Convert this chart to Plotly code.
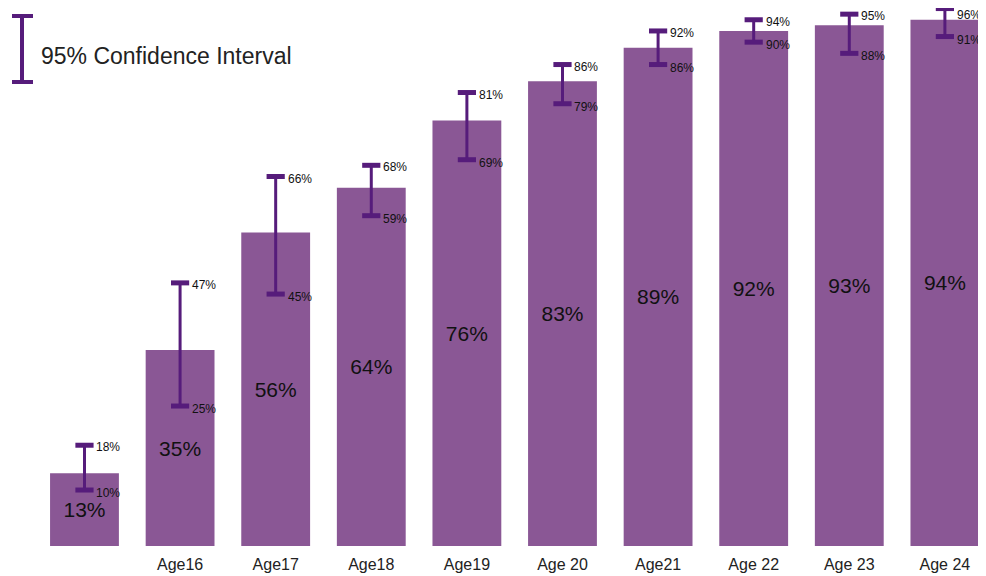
import plotly.graph_objects as go

labels = ["", "Age16", "Age17", "Age18", "Age19", "Age 20", "Age21", "Age 22", "Age 23", "Age 24"]
values = [13, 35, 56, 64, 76, 83, 89, 92, 93, 94]
ci_upper = [18, 47, 66, 68, 81, 86, 92, 94, 95, 96]
ci_lower = [10, 25, 45, 59, 69, 79, 86, 90, 88, 91]

x = list(range(len(labels)))
BAR = "#8A5795"
ERR = "#561C7B"
FONT = "Arial, Liberation Sans, sans-serif"
YMAX = 96.1

fig = go.Figure()
fig.add_trace(go.Bar(
    x=x, y=values, marker_color=BAR, marker_line_width=0,
    text=[f"{v}%" for v in values], textposition="inside",
    insidetextanchor="middle", textangle=0,
    textfont=dict(size=21, color="#111111", family=FONT),
    hoverinfo="skip", showlegend=False,
))
# stems
fig.add_trace(go.Scatter(
    x=x, y=ci_lower, mode="markers", marker=dict(size=1, color="rgba(0,0,0,0)"),
    error_y=dict(type="data", symmetric=False,
                 array=[u - l for u, l in zip(ci_upper, ci_lower)],
                 arrayminus=[0] * len(x), width=0, thickness=3, color=ERR),
    showlegend=False, hoverinfo="skip", cliponaxis=False,
))
# caps
for arr in (ci_upper, ci_lower):
    fig.add_trace(go.Scatter(
        x=x, y=arr, mode="markers",
        marker=dict(symbol="line-ew", size=13, line=dict(width=5, color=ERR)),
        showlegend=False, hoverinfo="skip", cliponaxis=False,
    ))

for i in x:
    up_shift = -2 if ci_upper[i] < YMAX - 1 else -6
    fig.add_annotation(x=i, y=ci_upper[i], text=f"{ci_upper[i]}%", showarrow=False,
                       xanchor="left", xshift=10, yshift=up_shift,
                       font=dict(size=12, color="#111111", family=FONT))
    fig.add_annotation(x=i, y=ci_lower[i], text=f"{ci_lower[i]}%", showarrow=False,
                       xanchor="left", xshift=10, yshift=-3,
                       font=dict(size=12, color="#111111", family=FONT))

# legend glyph (page has an 8px offset)
OFF = 8
W, H = 978, 538
def px(xp):
    return (xp - OFF) / W
def py(yp):
    return 1 - (yp - OFF) / H
fig.add_shape(type="line", xref="paper", yref="paper", x0=px(22), x1=px(22), y0=py(16), y1=py(82),
              line=dict(color=ERR, width=4))
for yy in (16, 82):
    fig.add_shape(type="line", xref="paper", yref="paper", x0=px(12), x1=px(33), y0=py(yy), y1=py(yy),
                  line=dict(color=ERR, width=4))
fig.add_annotation(xref="paper", yref="paper", x=px(39), y=py(56), text="95% Confidence Interval",
                   showarrow=False, xanchor="left", yanchor="middle",
                   font=dict(size=23, color="#222222", family=FONT))

fig.update_layout(
    width=978, height=568,
    margin=dict(l=0, r=0, t=0, b=30),
    paper_bgcolor="white", plot_bgcolor="white",
    bargap=0.28,
    xaxis=dict(range=[-0.800, 9.430], tickvals=x, ticktext=labels, showgrid=False,
               zeroline=False, showline=False, ticks="", ticklabelstandoff=7,
               tickfont=dict(size=16, color="#222222", family=FONT)),
    yaxis=dict(range=[0, YMAX], visible=False, showgrid=False, zeroline=False),
)

fig.write_html("out.html")
